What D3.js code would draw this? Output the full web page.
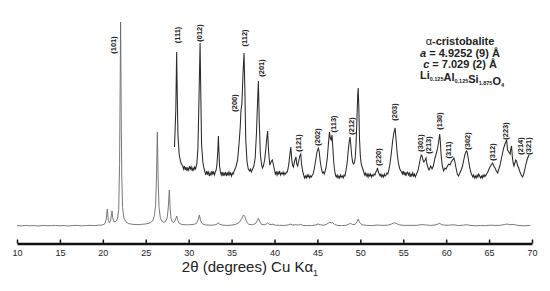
<!DOCTYPE html>
<html>
<head>
<meta charset="utf-8">
<script src="https://cdn.jsdelivr.net/npm/d3@7"></script>
<style>
  body { margin: 0; background: #fff; }
  svg { display: block; font-family: "Liberation Sans", Arial, sans-serif; }
  .hkl { font-size: 7.5px; font-weight: bold; fill: #222; }
  .phase { font-size: 11px; font-weight: bold; fill: #222; }
</style>
</head>
<body>
<div id="chart"></div>
<script>
(function () {
    // Full scan: [2theta, intensity] (arbitrary units, strongest peak = 100)
    const fullScan = [
        [10,0.2],[10.5,0],[11,0.3],[11.5,0.1],[12,0.2],[12.5,0],[13,0.3],[13.5,0.1],[14,0.2],[14.5,0.3],
        [15,0.1],[15.5,0.2],[16,0],[16.5,0.2],[17,0.3],[17.5,0.1],[18,0.2],[18.5,0.3],[19,0.2],[19.5,0.4],
        [20.0,0.5],[20.25,1.2],[20.4,3.5],[20.52,8.3],[20.62,3.5],[20.75,1.6],[20.9,2.5],[21.0,5.5],[21.07,7.4],
        [21.15,4],[21.3,2],[21.5,2.2],[21.7,3.5],[21.85,8],[21.95,30],[22.02,70],[22.07,100],[22.12,70],[22.2,25],
        [22.3,9],[22.45,4],[22.7,2],[23.0,1.2],[23.5,0.8],[24.0,0.7],[24.5,0.8],[25.0,1],[25.5,1.5],[25.8,2.5],
        [26.0,5],[26.15,10],[26.25,24],[26.35,46],[26.45,22],[26.55,9],[26.7,4],[26.9,2.2],[27.1,1.8],[27.3,2.2],
        [27.5,4],[27.62,9],[27.75,17.6],[27.85,8],[27.95,3.5],[28.1,2],[28.3,1.8],[28.45,3],[28.6,4.9],[28.72,3],
        [28.9,1.3],[29.2,0.8],[29.6,0.6],[30.0,0.6],[30.5,0.7],[30.9,1.2],[31.1,3],[31.25,5.4],[31.4,2.5],[31.6,1],
        [32.0,0.5],[32.5,0.4],[33.0,0.5],[33.3,0.9],[33.45,1.6],[33.6,0.8],[34.0,0.4],[34.5,0.3],[35.0,0.4],
        [35.5,0.8],[35.9,1.8],[36.15,3.5],[36.4,5.4],[36.55,4.6],[36.75,2],[37.0,0.8],[37.4,0.6],[37.8,1.2],
        [38.0,2.8],[38.12,3.8],[38.25,2.5],[38.45,0.9],[38.8,0.6],[39.05,1],[39.2,1.6],[39.35,0.9],[39.6,0.7],
        [39.8,0.9],[40.1,0.4],[40.6,0.3],[41.2,0.3],[41.6,0.5],[41.85,0.9],[42.05,0.5],[42.5,0.6],[42.8,0.5],
        [43.05,0.8],[43.3,0.3],[43.8,0.2],[44.3,0.2],[44.8,0.5],[45.1,1],[45.35,0.6],[45.7,0.4],[46.0,0.7],
        [46.3,1.5],[46.45,1.8],[46.6,1.5],[46.75,1.7],[47.0,0.8],[47.3,0.3],[47.8,0.2],[48.3,0.3],[48.65,0.9],
        [48.85,1.3],[49.1,0.7],[49.4,0.8],[49.6,2],[49.75,3.4],[49.9,1.8],[50.2,0.6],[50.7,0.3],[51.3,0.2],
        [52.0,0.5],[52.5,0.3],[53.2,0.4],[53.6,0.9],[53.9,1.5],[54.05,1.6],[54.3,1],[54.6,0.5],[55.2,0.3],
        [55.8,0.3],[56.5,0.3],[57.0,0.6],[57.2,0.7],[57.6,0.5],[58.2,0.3],[58.7,0.5],[59.0,0.9],[59.25,1.3],
        [59.45,0.7],[59.8,0.4],[60.3,0.4],[60.9,0.6],[61.4,0.2],[62.0,0.4],[62.4,0.6],[62.8,0.3],[63.4,0.1],
        [64.0,0.2],[64.6,0.2],[65.2,0.4],[65.6,0.3],[66.2,0.3],[66.8,0.7],[67.1,1],[67.4,0.6],[67.8,0.8],
        [68.2,0.4],[68.6,0.2],[69.2,0.1],[69.8,0.3]
    ];

    // Magnified high-angle part of the scan: [2theta, intensity]
    const zoomScan = [
        [28.35,31],[28.5,68],[28.6,126],[28.68,78],[28.75,43],[28.9,23],[29.1,15],[29.3,12],
        [29.4,9],[29.5,12],[29.6,8],[29.7,11],[29.8,7],[29.9,10],[30.0,8],[30.1,12],[30.2,9],[30.3,11],[30.4,7],
        [30.5,10],[30.6,8],[30.7,11],[30.8,9],
        [30.95,14],[31.08,30],[31.2,78],[31.33,135],[31.42,80],[31.5,34],[31.65,16],[31.8,9],
        [31.9,6],[32.0,3],[32.1,7],[32.2,4],[32.3,6],[32.4,2],[32.5,5],[32.6,3],[32.7,7],[32.8,4],[32.9,6],[33.0,3],
        [33.1,6],[33.2,8],
        [33.3,14],[33.4,28],[33.46,42],[33.52,28],[33.6,12],[33.7,6],
        [33.8,3],[33.9,6],[34.0,2],[34.1,5],[34.2,3],[34.3,6],[34.4,2],[34.5,5],[34.6,3],[34.7,6],[34.8,3],[34.9,5],
        [35.0,2],[35.1,5],[35.2,4],[35.3,7],
        [35.5,11],[35.7,18],[35.85,32],[36.0,50],[36.1,68],[36.2,74],[36.35,108],[36.45,125],[36.55,88],[36.65,38],
        [36.8,16],[36.95,9],[37.1,7],[37.2,9],[37.3,6],[37.45,9],[37.6,12],[37.75,20],[37.9,45],[38.0,70],[38.12,97],
        [38.22,58],[38.35,24],[38.5,13],[38.6,10],[38.7,12],[38.85,18],[39.0,30],[39.1,40],[39.2,47],[39.3,28],
        [39.45,13],[39.55,15],[39.65,17],[39.75,18],[39.85,14],[40.0,8],
        [40.1,4],[40.2,6],[40.3,3],[40.4,6],[40.5,4],[40.6,7],[40.7,3],[40.8,5],[40.9,4],[41.0,6],[41.1,3],[41.2,5],
        [41.3,4],[41.4,6],[41.5,6],
        [41.65,13],[41.8,24],[41.9,31],[42.0,20],[42.1,13],[42.2,11],[42.35,17],[42.5,21],[42.6,14],[42.7,12],
        [42.85,18],[42.95,22],[43.06,24],[43.15,14],[43.3,6],
        [43.4,3],[43.5,0],[43.6,2],[43.7,0],[43.8,3],[43.9,1],[44.0,3],[44.1,0],[44.2,2],[44.3,1],[44.4,3],[44.5,4],
        [44.65,10],[44.8,18],[44.95,26],[45.1,30],[45.2,27],[45.35,15],[45.5,8],[45.6,5],[45.7,6],[45.8,4],[45.9,7],
        [46.0,10],[46.15,20],[46.3,36],[46.4,46],[46.5,40],[46.6,38],[46.7,43],[46.8,30],[46.9,16],[47.0,8],[47.1,3],
        [47.2,1],[47.3,3],[47.4,0],[47.5,2],[47.6,0],[47.7,3],[47.8,1],[47.9,2],[48.0,0],[48.1,3],[48.2,2],[48.3,6],
        [48.45,14],[48.6,28],[48.7,36],[48.8,41],[48.9,32],[49.0,22],[49.1,16],[49.2,14],[49.3,15],[49.4,20],
        [49.5,34],[49.6,58],[49.7,84],[49.75,90],[49.82,72],[49.9,40],[50.0,22],[50.1,14],[50.25,10],[50.4,6],
        [50.5,3],[50.6,5],[50.7,2],[50.8,4],[50.9,1],[51.0,4],[51.1,2],[51.2,4],[51.3,1],[51.4,3],[51.5,2],[51.6,4],
        [51.7,3],[51.8,6],[51.9,7],[52.0,10],[52.1,6],[52.2,4],[52.3,2],[52.4,4],[52.5,1],[52.6,3],[52.7,1],
        [52.8,4],[52.9,2],[53.0,3],[53.1,5],[53.2,4],[53.3,7],
        [53.45,14],[53.6,24],[53.75,36],[53.9,45],[54.05,50],[54.15,40],[54.3,24],[54.45,14],[54.6,9],[54.8,6],
        [54.9,4],[55.0,7],[55.1,3],[55.2,6],[55.3,2],[55.4,5],[55.5,6],[55.6,3],[55.7,5],[55.8,1],[55.9,4],[56.0,2],
        [56.1,5],[56.2,2],[56.3,4],[56.4,1],[56.5,3],[56.6,5],[56.7,7],
        [56.85,13],[57.0,20],[57.1,23],[57.2,22],[57.3,18],[57.4,16],[57.55,18],[57.65,20],[57.75,14],[57.9,10],
        [58.0,8],[58.1,10],[58.2,12],[58.35,9],[58.5,12],[58.7,20],[58.9,26],[59.05,32],[59.15,38],[59.25,44],
        [59.32,36],[59.42,22],[59.55,12],[59.7,7],[59.85,10],[60.0,9],[60.15,12],[60.3,14],[60.45,13],[60.6,16],
        [60.75,18],[60.9,20],[61.0,17],[61.15,10],[61.3,4],[61.45,2],[61.6,5],[61.75,8],[61.9,12],[62.05,18],
        [62.2,24],[62.35,27],[62.45,26],[62.6,18],[62.75,10],[62.9,5],[63.0,3],
        [63.1,1],[63.2,3],[63.3,0],[63.4,2],[63.5,0],[63.6,3],[63.7,1],[63.8,4],[63.9,2],[64.0,0],[64.1,2],[64.2,0],
        [64.3,3],[64.4,1],[64.5,3],[64.6,2],[64.7,4],[64.8,5],
        [64.95,8],[65.1,11],[65.25,13],[65.4,15],[65.55,12],[65.7,10],[65.85,7],[66.0,5],[66.1,8],[66.25,12],
        [66.4,18],[66.55,24],[66.7,30],[66.85,34],[66.95,36],[67.05,38],[67.15,28],[67.3,26],[67.45,24],[67.55,30],
        [67.62,32],[67.7,22],[67.8,15],[67.9,12],[68.0,15],[68.1,18],[68.2,17],[68.3,13],[68.45,10],[68.6,6],
        [68.75,3],[68.9,1],[69.0,3],[69.15,8],[69.3,14],[69.45,19],[69.6,22],[69.65,23]
    ];

    // Miller indices and where each label sits (2theta, level on the magnified scale)
    const hklLabels = ["(101)","(111)","(012)","(112)","(200)","(201)","(121)","(202)","(113)","(212)","(220)",
        "(203)","(301)","(213)","(130)","(311)","(302)","(312)","(223)","(214)","(321)"];
    const hklAngles = [21.18,28.64,31.2,36.45,35.28,38.43,42.74,44.95,46.82,48.91,52.06,
        53.92,56.95,57.89,59.17,60.22,62.43,65.34,66.86,68.6,69.54];
    const hklLevels = [133,143,145,140,75,110,35,41,54,52,21,66,35,33,57,28,37,26,47,32,32];

    const xTicks = [10, 15, 20, 25, 30, 35, 40, 45, 50, 55, 60, 65, 70];

    const width = 550, height = 291;

    const svg = d3.select("#chart").append("svg")
        .attr("width", width)
        .attr("height", height);

    const x = d3.scaleLinear().domain([10, 70]).range([17, 532]);
    const yFull = d3.scaleLinear().domain([0, 100]).range([226, 22]);
    const yZoom = d3.scaleLinear().domain([0, 150]).range([178, 28]);

    // full pattern
    svg.append("path")
        .datum(fullScan)
        .attr("fill", "none")
        .attr("stroke", "#6a6a6a")
        .attr("stroke-width", 0.9)
        .attr("d", d3.line().x(d => x(d[0])).y(d => yFull(d[1])));

    // magnified pattern (noisier, drawn a bit darker)
    svg.append("path")
        .datum(zoomScan)
        .attr("fill", "none")
        .attr("stroke", "#2a2a2a")
        .attr("stroke-width", 1.05)
        .attr("d", d3.line().x(d => x(d[0])).y(d => yZoom(d[1])));

    // x axis, ticks pointing up
    const axis = svg.append("g")
        .attr("transform", "translate(0,243.5)")
        .call(d3.axisBottom(x).tickValues(xTicks).tickSize(-4).tickSizeOuter(0).tickPadding(6));
    axis.select(".domain").attr("stroke", "#111").attr("stroke-width", 2.5);
    axis.selectAll(".tick line").attr("stroke", "#111").attr("stroke-width", 1.5);
    axis.selectAll(".tick text")
        .attr("font-family", "Liberation Sans, Arial, sans-serif")
        .attr("font-size", 9)
        .attr("fill", "#222");

    // axis title
    const title = svg.append("text")
        .attr("x", 250)
        .attr("y", 272)
        .attr("text-anchor", "middle")
        .attr("font-size", 15)
        .attr("fill", "#222");
    title.append("tspan").text("2\u03b8 (degrees) Cu K\u03b1");
    title.append("tspan").attr("font-size", 9).attr("dy", 4).text("1");

    // peak labels
    svg.append("g")
        .selectAll("text")
        .data(hklLabels)
        .join("text")
        .attr("class", "hkl")
        .attr("text-anchor", "middle")
        .attr("dy", "0.35em")
        .attr("transform", (d, i) => `translate(${x(hklAngles[i])},${yZoom(hklLevels[i])}) rotate(-90)`)
        .text(d => d);

    // phase annotation
    const note = svg.append("g").attr("class", "phase");
    const l1 = note.append("text").attr("x", 460).attr("y", 45).attr("text-anchor", "middle");
    l1.append("tspan").attr("font-weight", "normal").text("\u03b1");
    l1.append("tspan").text("-cristobalite");
    const l2 = note.append("text").attr("x", 460).attr("y", 57).attr("text-anchor", "middle");
    l2.append("tspan").attr("font-style", "italic").text("a");
    l2.append("tspan").text(" = 4.9252 (9) \u00c5");
    const l3 = note.append("text").attr("x", 460).attr("y", 68).attr("text-anchor", "middle");
    l3.append("tspan").attr("font-style", "italic").text("c");
    l3.append("tspan").text(" = 7.029 (2) \u00c5");
    const l4 = note.append("text").attr("x", 462).attr("y", 79).attr("text-anchor", "middle");
    [["Li", "0.125"], ["Al", "0.125"], ["Si", "1.875"], ["O", "4"]].forEach(([el, sub]) => {
        l4.append("tspan").attr("font-size", 11).attr("dy", 0).text(el);
        l4.append("tspan").attr("font-size", 5.5).attr("dy", 2).text(sub);
        l4.append("tspan").attr("font-size", 11).attr("dy", -2).text("");
    });
})();
</script>
</body>
</html>
